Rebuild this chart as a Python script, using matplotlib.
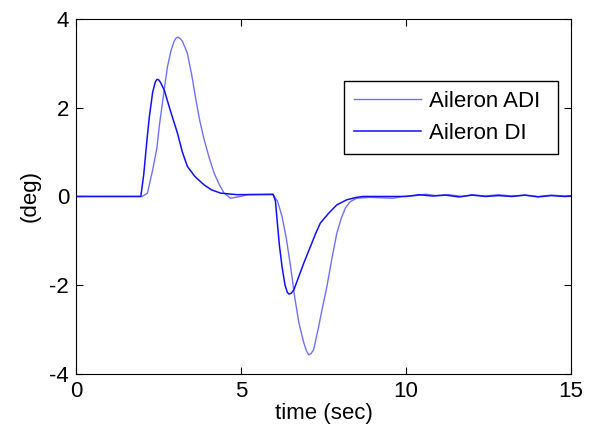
import matplotlib
matplotlib.use("Agg")
import matplotlib.pyplot as plt

plt.rcParams['font.family'] = ['Liberation Sans', 'DejaVu Sans']
plt.rcParams['axes.unicode_minus'] = False

# Aileron response
t_adi = [0, 2.0, 2.16, 2.32, 2.45, 2.52, 2.65, 2.77, 2.88, 2.97, 3.03, 3.09, 3.15, 3.22, 3.37,
         3.5, 3.63, 3.75, 3.88, 4.03, 4.18, 4.33, 4.48, 4.68, 4.98, 5.2, 5.97,
         6.1, 6.24, 6.37, 6.5, 6.62, 6.75, 6.9, 6.98, 7.05, 7.12, 7.2, 7.35, 7.48, 7.6,
         7.75, 7.9, 8.03, 8.16, 8.3, 8.5, 8.9, 9.6, 9.9, 10.3, 10.6, 10.9,
         11.3, 11.7, 12.0, 12.4, 12.8, 13.2, 13.6, 14.0, 14.4, 14.8, 15.0]
y_adi = [0, 0, 0.07, 0.6, 1.1, 1.58, 2.3, 2.93, 3.3, 3.5, 3.57, 3.59, 3.56, 3.5, 3.23,
         2.75, 2.18, 1.7, 1.28, 0.88, 0.53, 0.28, 0.08, -0.04, 0.0, 0.04, 0.04,
         -0.1, -0.45, -0.95, -1.58, -2.25, -2.85, -3.3, -3.48, -3.57, -3.54, -3.45, -2.93, -2.45, -2.03,
         -1.4, -0.83, -0.5, -0.26, -0.12, -0.04, -0.02, -0.04, 0.0, 0.02, 0.05, 0.02,
         0.04, 0.0, 0.04, 0.01, 0.04, 0.01, 0.03, 0.0, 0.03, 0.01, 0.02]

t_di = [0, 1.96, 2.05, 2.15, 2.22, 2.32, 2.4, 2.45, 2.5, 2.55, 2.67, 2.85, 3.07, 3.22, 3.37,
        3.6, 3.88, 4.1, 4.38, 4.88, 5.97, 6.04, 6.09, 6.16, 6.24, 6.33, 6.4, 6.45,
        6.52, 6.6, 6.75, 6.9, 7.1, 7.25, 7.4, 7.65, 7.9, 8.2, 8.5, 8.7, 9.5, 10.0,
        10.4, 10.8, 11.2, 11.6, 12.0, 12.4, 12.8, 13.2, 13.6, 14.0, 14.4, 14.8, 15.0]
y_di = [0, 0, 0.5, 1.3, 1.8, 2.35, 2.58, 2.64, 2.63, 2.58, 2.4, 1.95, 1.43, 1.0, 0.68,
        0.45, 0.26, 0.15, 0.075, 0.04, 0.05, -0.1, -0.53, -1.1, -1.58, -2.0, -2.16, -2.2,
        -2.18, -2.1, -1.8, -1.5, -1.13, -0.85, -0.6, -0.38, -0.19, -0.075, -0.02, 0.0, 0.0, 0.0,
        0.04, 0.01, 0.03, -0.01, 0.03, 0.0, 0.02, 0.0, 0.03, -0.01, 0.02, 0.0, 0.01]

x_ticks = [0, 5, 10, 15]
y_ticks = [-4, -2, 0, 2, 4]

fig = plt.figure(figsize=(5.9, 4.41), dpi=100)
ax = fig.add_axes([0.129, 0.152, 0.839, 0.805])

ax.plot(t_adi, y_adi, color='#7070ff', linewidth=1.0, label='Aileron ADI')
ax.plot(t_di, y_di, color='#1010ff', linewidth=1.1, label='Aileron DI')

ax.set_xlim(0, 15)
ax.set_ylim(-4, 4)
ax.set_xticks(x_ticks)
ax.set_yticks(y_ticks)
ax.tick_params(direction='in', top=True, right=True, labelsize=16, length=5, pad=5)
for s in ax.spines.values():
    s.set_linewidth(0.8)

ax.set_xlabel('time (sec)', fontsize=16, labelpad=1)
ax.set_ylabel('(deg)', fontsize=16, labelpad=6)

leg = ax.legend(loc='upper left', bbox_to_anchor=(0.541, 0.62, 0.433, 0.205),
                mode='expand', fontsize=16, fancybox=False, framealpha=1,
                edgecolor='black', handlelength=3.0, handletextpad=0.4,
                borderpad=0.45, labelspacing=0.5, borderaxespad=0)
leg.get_frame().set_linewidth(1.0)

fig.savefig('out.png', dpi=100)
plt.close(fig)
